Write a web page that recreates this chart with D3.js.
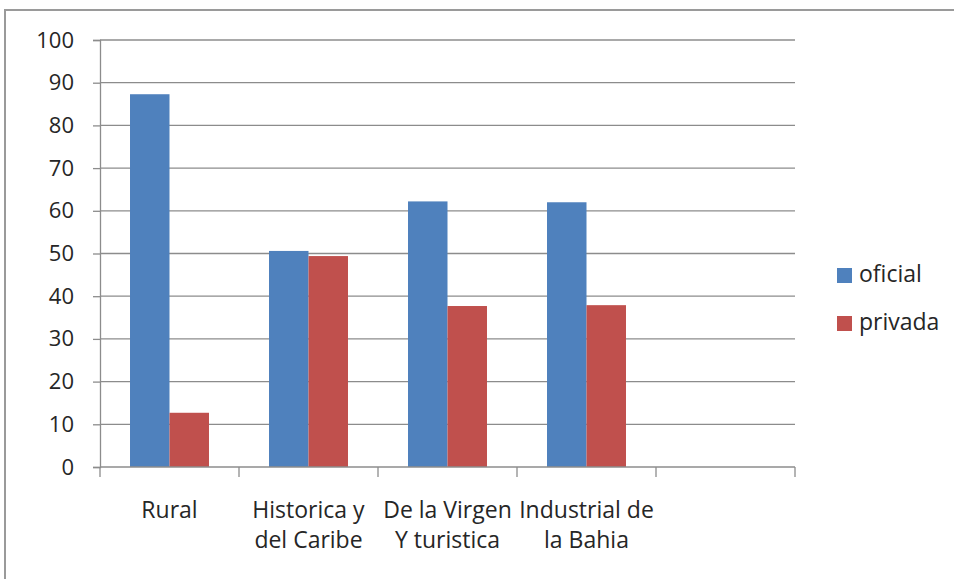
<!DOCTYPE html>
<html>
<head>
<meta charset="utf-8">
<script src="https://cdn.jsdelivr.net/npm/d3@7.9.0/dist/d3.min.js"></script>
<style>
  body { margin: 0; background: #fff; }
  svg { display: block; }
  text { font-family: "Open Sans", Lato, sans-serif; fill: #262626; }
</style>
</head>
<body>
<svg id="chart" width="954" height="579"></svg>
<script>
// chart data
const categories = [
  ["Rural"],
  ["Historica y", "del Caribe"],
  ["De la Virgen", "Y turistica"],
  ["Industrial de", "la Bahia"],
  [""]
];
const seriesNames = ["oficial", "privada"];
const oficial = [87.3, 50.6, 62.2, 62.0, null];
const privada = [12.7, 49.4, 37.7, 37.9, null];
const yTicks = [0, 10, 20, 30, 40, 50, 60, 70, 80, 90, 100];
const colors = ["#4F81BD", "#C0504D"];

const svg = d3.select("#chart");
const area = { left: 100, right: 795, top: 40, bottom: 467 };

// outer frame
svg.append("rect")
  .attr("x", 5).attr("y", 10)
  .attr("width", 1000).attr("height", 700)
  .attr("fill", "none")
  .attr("stroke", "#9a9a9a")
  .attr("stroke-width", 2);

const x = d3.scaleBand()
  .domain(d3.range(categories.length))
  .range([area.left, area.right])
  .paddingInner(0)
  .paddingOuter(0);

const xInner = d3.scaleBand()
  .domain(seriesNames)
  .range([0, x.bandwidth()])
  .paddingInner(0)
  .paddingOuter(0.76);

const y = d3.scaleLinear().domain([0, 100]).range([area.bottom, area.top]);

// gridlines
svg.append("g")
  .selectAll("line")
  .data(yTicks.filter(d => d > 0))
  .join("line")
  .attr("x1", area.left).attr("x2", area.right)
  .attr("y1", d => y(d)).attr("y2", d => y(d))
  .attr("stroke", "#8c8c8c")
  .attr("stroke-width", 1.3);

// bars
const rows = categories.map((c, i) => ({ i, values: [oficial[i], privada[i]] }));
svg.append("g")
  .selectAll("g")
  .data(rows)
  .join("g")
  .attr("transform", d => `translate(${x(d.i)},0)`)
  .selectAll("rect")
  .data(d => d.values.map((v, k) => ({ v, k })).filter(e => e.v != null))
  .join("rect")
  .attr("x", d => xInner(seriesNames[d.k]))
  .attr("width", xInner.bandwidth())
  .attr("y", d => y(d.v))
  .attr("height", d => y(0) - y(d.v))
  .attr("fill", d => colors[d.k]);

// y axis
const yAxis = svg.append("g")
  .attr("transform", `translate(${area.left},0)`)
  .call(d3.axisLeft(y).tickValues(yTicks).tickSize(7).tickPadding(19).tickFormat(d3.format("d")));
yAxis.select(".domain").attr("stroke", "#8c8c8c").attr("stroke-width", 1.3);
yAxis.selectAll(".tick line").attr("stroke", "#8c8c8c").attr("stroke-width", 1.3);
yAxis.selectAll(".tick text")
  .attr("font-size", 22)
  .style("font-family", "'Open Sans', Lato, sans-serif")
  .attr("fill", "#262626");

// x axis line + ticks at band boundaries
const xg = svg.append("g");
xg.append("line")
  .attr("x1", area.left).attr("x2", area.right)
  .attr("y1", area.bottom).attr("y2", area.bottom)
  .attr("stroke", "#8c8c8c").attr("stroke-width", 1.3);
const bounds = d3.range(categories.length + 1).map(i => area.left + i * x.step());
xg.selectAll("line.tk")
  .data(bounds)
  .join("line")
  .attr("class", "tk")
  .attr("x1", d => d).attr("x2", d => d)
  .attr("y1", area.bottom).attr("y2", area.bottom + 10)
  .attr("stroke", "#8c8c8c").attr("stroke-width", 1.3);

// category labels
const lab = svg.append("g")
  .selectAll("text")
  .data(categories.map((c, i) => ({ c, i })))
  .join("text")
  .attr("x", d => x(d.i) + x.bandwidth() / 2)
  .attr("y", 518)
  .attr("text-anchor", "middle")
  .attr("font-size", 23);
lab.selectAll("tspan")
  .data(d => d.c)
  .join("tspan")
  .attr("x", function () { return d3.select(this.parentNode).attr("x"); })
  .attr("dy", (d, k) => k === 0 ? 0 : 30)
  .text(d => d);

// legend
const lg = svg.append("g")
  .selectAll("g")
  .data(seriesNames)
  .join("g")
  .attr("transform", (d, k) => `translate(837,${268 + k * 48})`);
lg.append("rect")
  .attr("width", 15).attr("height", 15)
  .attr("fill", (d, k) => colors[k]);
lg.append("text")
  .attr("x", 22).attr("y", 14)
  .attr("font-size", 23)
  .text(d => d);
</script>
</body>
</html>
